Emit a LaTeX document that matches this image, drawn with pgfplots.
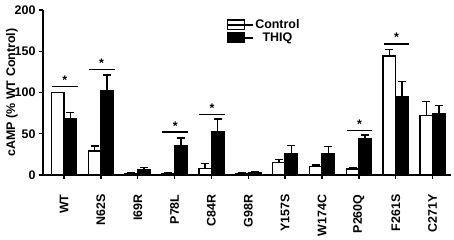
\documentclass[border=0pt]{standalone}
\usepackage{pgfplots}
\pgfplotsset{compat=1.18}
\usepackage{fontspec}
\setmainfont{Liberation Sans}
\newcommand{\fnt}{\fontsize{12.5}{14}\selectfont\bfseries}
\newcommand{\sig}[2]{%
  \draw[line width=1.4pt] (axis cs:#1-0.33,#2) -- (axis cs:#1+0.37,#2);
  \node[font=\fnt, inner sep=0pt, anchor=south] at (axis cs:#1+0.02,#2+2) {*};}
\begin{document}
\begin{tikzpicture}
\path[use as bounding box] (-43bp,-65bp) rectangle (411bp,175bp);
\begin{axis}[
  scale only axis, width=408bp, height=165bp,
  anchor=south west, at={(0,0)},
  xmin=-0.57, xmax=10.5, ymin=0, ymax=200,
  axis x line*=bottom, axis y line*=left,
  axis line style={line width=1.6pt},
  tick style={line width=1.4pt, black},
  tick align=outside, major tick length=4bp,
  xtick={0,...,10},
  xticklabels={WT,N62S,I69R,P78L,C84R,G98R,Y157S,W174C,P260Q,F261S,C271Y},
  x tick label style={yshift=-12bp, rotate=90, anchor=east},
  ytick={0,50,100,150,200},
  /pgf/number format/assume math mode=true,
  tick label style={font=\fnt},
  ylabel={cAMP (\% WT Control)},
  ylabel style={font=\fnt, at={(axis description cs:-0.076,0.5)}, anchor=center},
  ybar=0pt, bar width=12.5bp,
  legend style={at={(axis description cs:0.45,0.955)}, anchor=north west,
    draw=none, fill=none, font=\fnt,
    row sep=-1bp, inner sep=0pt},
  legend image code/.code={\draw[#1, line width=1.5pt] (0bp,-4.5bp) rectangle (17bp,5bp);
    \path (0bp,0bp) -- (25bp,0bp);},
  error bars/y dir=plus, error bars/y explicit,
  error bars/error bar style={line width=1.4pt, black},
  error bars/error mark options={line width=1.4pt, mark size=4bp, rotate=90},
]
\addplot[draw=black, fill=white, line width=1.5pt] coordinates {
 (0,100) +- (0,0.3)
 (1,29) +- (0,6)
 (2,2) +- (0,0.5)
 (3,2) +- (0,0.5)
 (4,8) +- (0,6)
 (5,2) +- (0,0.5)
 (6,15) +- (0,4)
 (7,10) +- (0,2)
 (8,7) +- (0,1.5)
 (9,144) +- (0,8)
 (10,72) +- (0,17)
};
\addplot[draw=black, fill=black, line width=1.5pt] coordinates {
 (0,68) +- (0,8)
 (1,102) +- (0,19)
 (2,6) +- (0,3)
 (3,36) +- (0,9)
 (4,53) +- (0,15)
 (5,3) +- (0,1)
 (6,26) +- (0,10)
 (7,25.5) +- (0,9)
 (8,43.5) +- (0,5)
 (9,95) +- (0,18)
 (10,74) +- (0,10)
};
\legend{Control,THIQ}
\sig{0}{107}
\sig{1}{128}
\sig{3}{52}
\sig{4}{73}
\sig{8}{54}
\sig{9}{159}
\end{axis}
\end{tikzpicture}
\end{document}
